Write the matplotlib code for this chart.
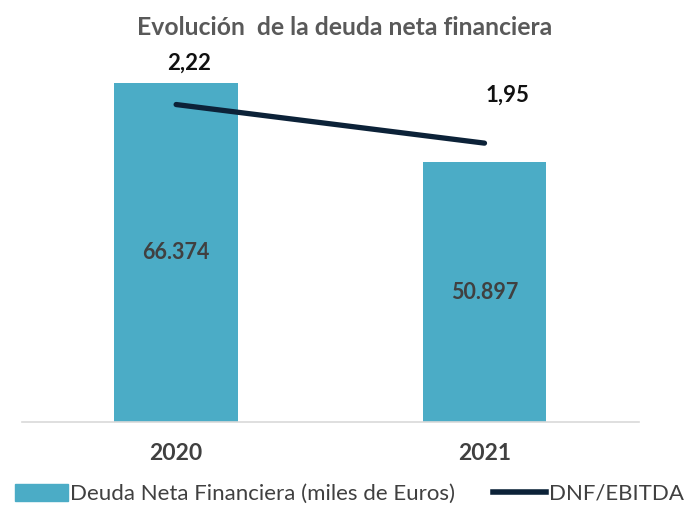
import matplotlib
matplotlib.use("Agg")
import matplotlib.pyplot as plt
from matplotlib.patches import Patch
from matplotlib.lines import Line2D

plt.rcParams['font.family'] = ['Lato', 'DejaVu Sans']

years = ["2020", "2021"]
deuda = [66374, 50897]
deuda_labels = ["66.374", "50.897"]
ratio = [2.22, 1.95]
ratio_labels = ["2,22", "1,95"]

bar_color = "#4BACC6"
line_color = "#0C2238"
text_color = "#404040"

fig = plt.figure(figsize=(6.86, 5.07), dpi=100)
ax = fig.add_axes([0.032, 0.1677, 0.899, 0.7051])
x = list(range(len(years)))
ax.bar(x, deuda, width=0.40, color=bar_color, zorder=2)
ax.set_xlim(-0.5, 1.5)
ax.set_ylim(0, 70000)
for xi, v, lab in zip(x, deuda, deuda_labels):
    ax.text(xi, v / 2, lab, ha="center", va="center", fontsize=15.5,
            fontweight="bold", color=text_color, zorder=3)

for s in ["top", "right", "left"]:
    ax.spines[s].set_visible(False)
ax.spines["bottom"].set_color("#D9D9D9")
ax.spines["bottom"].set_linewidth(1.2)
ax.set_yticks([])
ax.set_xticks(x)
ax.set_xticklabels(years, fontsize=16.5, fontweight="bold", color=text_color)
ax.tick_params(axis="x", length=0, pad=15)

ax2 = ax.twinx()
ax2.set_ylim(0, 2.5)
ax2.plot(x, ratio, color=line_color, linewidth=3.8, solid_capstyle="round", zorder=4)
ax2.set_yticks([])
for s in ["top", "right", "left", "bottom"]:
    ax2.spines[s].set_visible(False)
offsets = [(9, 30), (16.5, 34.5)]
for xi, v, lab, off in zip(x, ratio, ratio_labels, offsets):
    ax2.annotate(lab, (xi, v), xytext=off, textcoords="offset points",
                 ha="center", va="center", fontsize=16, fontweight="bold",
                 color="#111111")

fig.text(0.502, 0.945, "Evolución  de la deuda neta financiera", ha="center",
         va="center", fontsize=17.8, fontweight="bold", color="#595959")

handles = [Patch(color=bar_color), Line2D([0], [0], color=line_color, linewidth=4)]
leg = fig.legend(handles, ["Deuda Neta Financiera (miles de Euros)", "DNF/EBITDA"],
                 loc="center", bbox_to_anchor=(0.509, 0.026), ncol=2, frameon=False,
                 fontsize=16, handlelength=2.4, handleheight=0.8,
                 handletextpad=0.1, columnspacing=1.7, borderpad=0, borderaxespad=0)
for t in leg.get_texts():
    t.set_color(text_color)

fig.savefig("out.png", dpi=100)
